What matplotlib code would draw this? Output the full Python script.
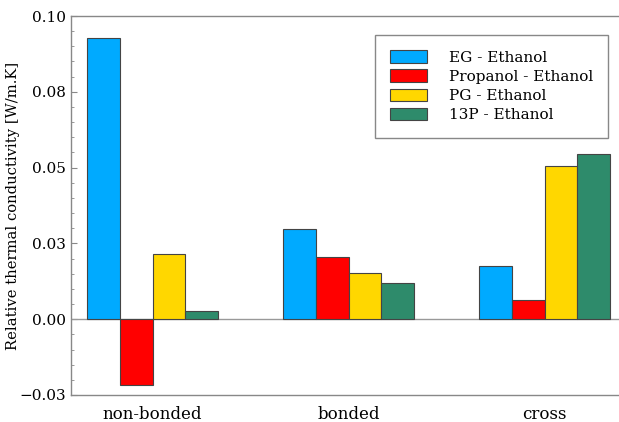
import matplotlib
matplotlib.use('Agg')
import matplotlib.pyplot as plt
import numpy as np
from matplotlib.ticker import MultipleLocator

plt.rcParams.update({
    'font.family': 'DejaVu Serif',
    'font.size': 11,
})

groups = ['non-bonded', 'bonded', 'cross']
series = ['EG - Ethanol', 'Propanol - Ethanol', 'PG - Ethanol', '13P - Ethanol']
eg = [0.0926, 0.0296, 0.0175]
propanol = [-0.0218, 0.0205, 0.0063]
pg = [0.0215, 0.0153, 0.0505]
p13 = [0.0027, 0.0118, 0.0545]
yticks = [-0.025, 0.0, 0.025, 0.05, 0.075, 0.1]
ytick_labels = ['\u22120.03', '0.00', '0.03', '0.05', '0.08', '0.10']

colors = ['#00aaff', '#ff0000', '#ffd700', '#2e8b6b']
values = [eg, propanol, pg, p13]

fig = plt.figure(figsize=(6.19, 4.22), dpi=100)
ax = fig.add_axes([71/619, 1 - 395/422, 1 - 71/619, (395 - 16)/422])

x = np.arange(len(groups))
w = 0.166
for i, (vals, c, lab) in enumerate(zip(values, colors, series)):
    ax.bar(x + (i - 1.5) * w, vals, w, color=c, edgecolor='#444444',
           linewidth=0.8, label=lab, zorder=3)

ax.axhline(0, color='#999999', linewidth=1.0, zorder=2)

ax.set_xlim(-0.416, 2.38)
ax.set_ylim(-0.025, 0.1)
ax.set_yticks(yticks)
ax.set_yticklabels(ytick_labels)
ax.yaxis.set_minor_locator(MultipleLocator(0.005))
ax.tick_params(axis='y', which='both', direction='in', color='#888888',
               labelsize=11)
ax.tick_params(axis='y', which='major', length=4)
ax.tick_params(axis='y', which='minor', length=2.5)
ax.set_xticks(x)
ax.set_xticklabels(groups, fontsize=12)
ax.tick_params(axis='x', length=0, pad=8)

for s in ['left', 'top', 'bottom']:
    ax.spines[s].set_color('#888888')
    ax.spines[s].set_linewidth(1.0)
ax.spines['right'].set_visible(False)

ax.set_ylabel('Relative thermal conductivity [W/m.K]', fontsize=10.6)
ax.yaxis.set_label_coords(-0.093, 0.5)

leg = ax.legend(loc='upper right', bbox_to_anchor=(0.98, 0.95), fontsize=11,
                fancybox=False, edgecolor='#888888', framealpha=1,
                handlelength=2.4, handleheight=0.9, labelspacing=0.3,
                handletextpad=1.4, borderpad=1.0, borderaxespad=0)
leg.get_frame().set_linewidth(1.0)

fig.savefig('out.png', dpi=100)
